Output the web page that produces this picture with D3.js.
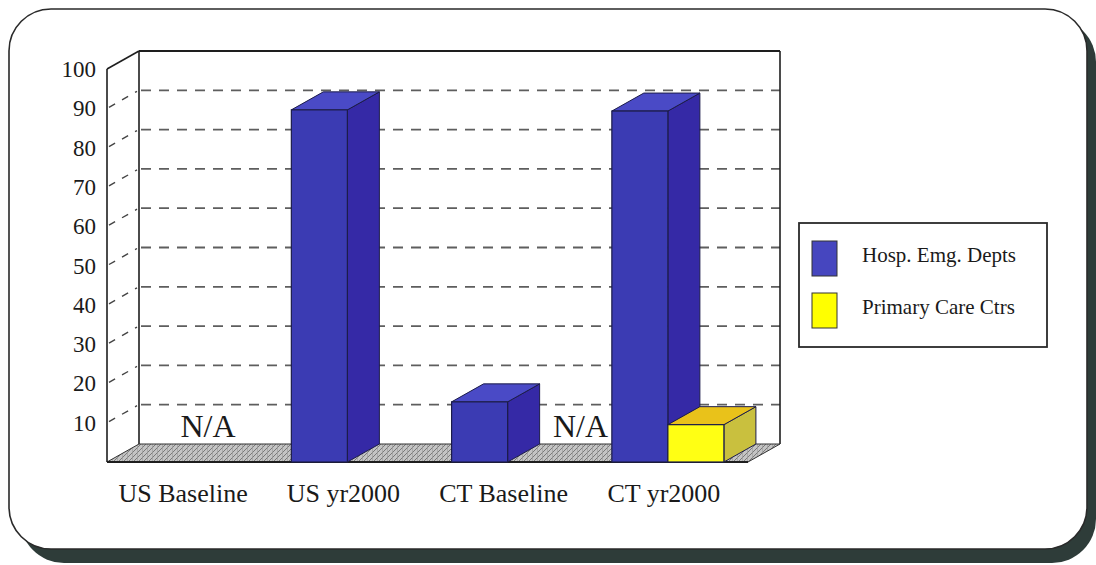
<!DOCTYPE html>
<html>
<head>
<meta charset="utf-8">
<script src="https://cdn.jsdelivr.net/npm/d3@7"></script>
<style>
  html, body { margin: 0; padding: 0; background: #fff; }
  svg { display: block; }
</style>
</head>
<body>
<svg id="chart" width="1096" height="565" font-family="'Liberation Serif', Tinos, 'Times New Roman', 'DejaVu Serif', serif"></svg>
<script>
// ---- data ----
const categories = ["US Baseline", "US yr2000", "CT Baseline", "CT yr2000"];
const series = ["Hosp. Emg. Depts", "Primary Care Ctrs"];
const hospValues = [null, 89.6, 15.3, 89.3];
const primaryValues = [null, null, null, 9.5];
const yTicks = [10, 20, 30, 40, 50, 60, 70, 80, 90, 100];
const naNotes = [
  { category: "US Baseline", text: "N/A" },
  { category: "CT Baseline", text: "N/A" }
];

// ---- layout ----
const W = 1096, H = 565;
const serifFont = "'Liberation Serif', Tinos, 'Times New Roman', 'DejaVu Serif', serif";
const plot = { left: 107, right: 748, top: 69, bottom: 462 };
const depth = { dx: 32, dy: -18 };
const colors = {
  "Hosp. Emg. Depts": { front: "#3b3bb3", side: "#3529a6", top: "#4a4ac6", legend: "#4646bf" },
  "Primary Care Ctrs": { front: "#ffff14", side: "#c9c03e", top: "#e9c21a", legend: "#ffff00" }
};
// where each N/A note sits inside its category band (fraction of band width)
const noteOffsets = { "US Baseline": 0.63, "CT Baseline": 0.955 };

const svg = d3.select("#chart");

// ---- frame with drop shadow ----
svg.append("rect")
  .attr("x", 20).attr("y", 18).attr("width", 1076).attr("height", 545)
  .attr("rx", 44).attr("ry", 44)
  .attr("fill", "#2e3c39");
svg.append("rect")
  .attr("x", 9).attr("y", 9).attr("width", 1078).attr("height", 540)
  .attr("rx", 42).attr("ry", 42)
  .attr("fill", "#ffffff").attr("stroke", "#2a2a2a").attr("stroke-width", 1.6);

// ---- scales ----
const x0 = d3.scaleBand().domain(categories).range([plot.left, plot.right]).paddingInner(0).paddingOuter(0);
const x1 = d3.scaleBand().domain(series).range([0, x0.bandwidth()]).paddingInner(0).paddingOuter(0.43);
const y = d3.scaleLinear().domain([0, 100]).range([plot.bottom, plot.top]);

// ---- floor pattern ----
const defs = svg.append("defs");
const pat = defs.append("pattern")
  .attr("id", "floorHatch").attr("patternUnits", "userSpaceOnUse")
  .attr("width", 5).attr("height", 5);
pat.append("rect").attr("width", 5).attr("height", 5).attr("fill", "#c4c4c4");
pat.append("path").attr("d", "M0,5 L5,0 M-1,1 L1,-1 M4,6 L6,4")
  .attr("stroke", "#7a7a7a").attr("stroke-width", 1);
pat.append("rect").attr("x", 2).attr("y", 0).attr("width", 1).attr("height", 5).attr("fill", "#9a9a9a").attr("opacity", 0.6);

const bx = plot.left + depth.dx;          // back wall left
const bxr = plot.right + depth.dx;        // back wall right
const yb = v => y(v) + depth.dy;          // back-wall y for a value

// ---- back wall ----
svg.append("rect")
  .attr("x", bx).attr("y", yb(100))
  .attr("width", bxr - bx).attr("height", yb(0) - yb(100))
  .attr("fill", "#ffffff");

// dashed gridlines on the back wall
svg.append("g").selectAll("line")
  .data(yTicks.filter(t => t < 100))
  .join("line")
  .attr("x1", bx + 2).attr("x2", bxr)
  .attr("y1", d => yb(d)).attr("y2", d => yb(d))
  .attr("stroke", "#5e5e5e").attr("stroke-width", 1.8)
  .attr("stroke-dasharray", "10,8");

// dashed gridlines across the left side wall
svg.append("g").selectAll("line")
  .data(yTicks.filter(t => t < 100))
  .join("line")
  .attr("x1", plot.left + 2).attr("x2", bx - 2)
  .attr("y1", d => y(d) - 1).attr("y2", d => yb(d) + 1)
  .attr("stroke", "#444").attr("stroke-width", 1.4)
  .attr("stroke-dasharray", "7,8");

// wall edges
const edge = svg.append("g").attr("fill", "none").attr("stroke", "#1e1e1e").attr("stroke-width", 1.6);
edge.append("line").attr("x1", bx).attr("x2", bxr).attr("y1", yb(100)).attr("y2", yb(100)).attr("stroke-width", 2.2);
edge.append("line").attr("x1", bx).attr("x2", bx).attr("y1", yb(100)).attr("y2", yb(0));
edge.append("line").attr("x1", bxr).attr("x2", bxr).attr("y1", yb(100)).attr("y2", yb(0));
edge.append("line").attr("x1", plot.left).attr("x2", bx).attr("y1", y(100)).attr("y2", yb(100));
edge.append("line").attr("x1", plot.left).attr("x2", plot.left).attr("y1", y(100)).attr("y2", y(0));

// ---- floor ----
svg.append("path")
  .attr("d", `M${plot.left},${y(0)} L${plot.right},${y(0)} L${bxr},${yb(0)} L${bx},${yb(0)} Z`)
  .attr("fill", "url(#floorHatch)")
  .attr("stroke", "#333").attr("stroke-width", 1);
svg.append("line")
  .attr("x1", plot.left).attr("x2", plot.right)
  .attr("y1", y(0)).attr("y2", y(0))
  .attr("stroke", "#1e1e1e").attr("stroke-width", 2);

// ---- y tick labels ----
svg.append("g").selectAll("text")
  .data(yTicks)
  .join("text")
  .attr("x", 96).attr("y", d => y(d))
  .attr("dy", "0.35em")
  .attr("text-anchor", "end")
  .attr("font-family", serifFont)
  .attr("font-size", 23)
  .attr("fill", "#1a1a1a")
  .text(d => d);

// ---- 3D bars ----
const barData = [];
categories.forEach((c, i) => {
  [[series[0], hospValues[i]], [series[1], primaryValues[i]]].forEach(([s, v]) => {
    if (v != null) barData.push({ category: c, series: s, value: v });
  });
});

const bars = svg.append("g").selectAll("g")
  .data(barData)
  .join("g");

bars.each(function (d) {
  const g = d3.select(this);
  const xl = x0(d.category) + x1(d.series);
  const xr = xl + x1.bandwidth();
  const yt = y(d.value), y0 = y(0);
  const c = colors[d.series];
  const stroke = "#1c1c4a";
  // side face
  g.append("path")
    .attr("d", `M${xr},${y0} L${xr + depth.dx},${y0 + depth.dy} L${xr + depth.dx},${yt + depth.dy} L${xr},${yt} Z`)
    .attr("fill", c.side).attr("stroke", stroke).attr("stroke-width", 1).attr("stroke-linejoin", "round");
  // top face
  g.append("path")
    .attr("d", `M${xl},${yt} L${xr},${yt} L${xr + depth.dx},${yt + depth.dy} L${xl + depth.dx},${yt + depth.dy} Z`)
    .attr("fill", c.top).attr("stroke", stroke).attr("stroke-width", 1).attr("stroke-linejoin", "round");
  // front face
  g.append("rect")
    .attr("x", xl).attr("y", yt)
    .attr("width", xr - xl).attr("height", y0 - yt)
    .attr("fill", c.front).attr("stroke", stroke).attr("stroke-width", 1.2);
});

// ---- N/A notes ----
svg.append("g").selectAll("text")
  .data(naNotes)
  .join("text")
  .attr("x", d => x0(d.category) + x0.bandwidth() * noteOffsets[d.category])
  .attr("y", 437)
  .attr("text-anchor", "middle")
  .attr("font-family", serifFont)
  .attr("font-size", 32)
  .attr("fill", "#1a1a1a")
  .text(d => d.text);

// ---- category labels ----
svg.append("g").selectAll("text")
  .data(categories)
  .join("text")
  .attr("x", d => x0(d) + x0.bandwidth() / 2 - 4)
  .attr("y", 502)
  .attr("text-anchor", "middle")
  .attr("font-family", serifFont)
  .attr("font-size", 26)
  .attr("fill", "#1a1a1a")
  .text(d => d);

// ---- legend ----
const legend = svg.append("g");
legend.append("rect")
  .attr("x", 799).attr("y", 223).attr("width", 248).attr("height", 124)
  .attr("fill", "#fff").attr("stroke", "#2a2a2a").attr("stroke-width", 1.8);
const items = legend.selectAll("g.item")
  .data(series)
  .join("g")
  .attr("class", "item")
  .attr("transform", (d, i) => `translate(0,${i * 52})`);
items.append("rect")
  .attr("x", 812).attr("y", 241).attr("width", 25).attr("height", 35)
  .attr("fill", d => colors[d].legend)
  .attr("stroke", "#333").attr("stroke-width", 1);
items.append("text")
  .attr("x", 862).attr("y", 262)
  .attr("font-family", serifFont)
  .attr("font-size", 21)
  .attr("fill", "#1a1a1a")
  .text(d => d);
</script>
</body>
</html>
